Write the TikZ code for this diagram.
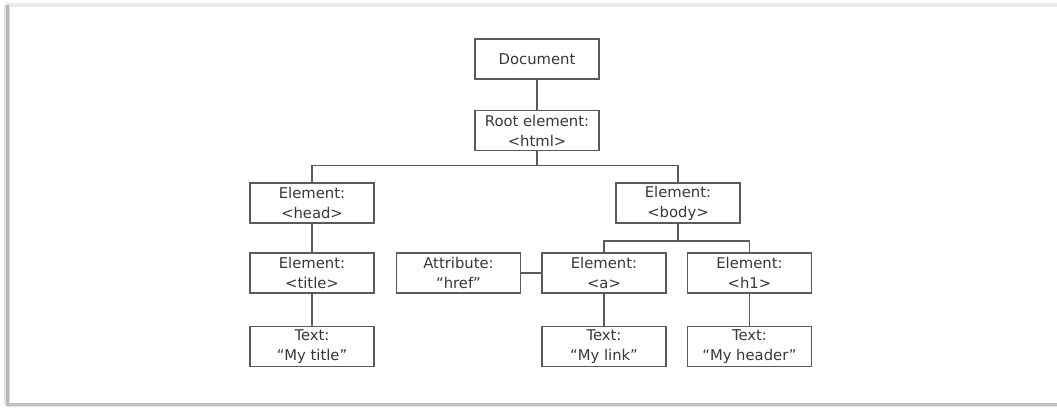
\documentclass[tikz,border=0pt]{standalone}
\usepackage{fontspec}
\setmainfont{DejaVu Sans}
\begin{document}
\begin{tikzpicture}[x=1pt,y=-1pt,
  treebox/.style={draw=boxline, line width=1.2pt, fill=white,
    minimum width=124pt, minimum height=40pt, inner sep=0pt,
    align=center, text=textgray, font=\fontsize{14.8}{20}\selectfont},
  link/.style={draw=boxline, line width=1.2pt}]
\definecolor{boxline}{HTML}{5A5A5A}
\definecolor{textgray}{HTML}{383838}
\useasboundingbox (0,0) rectangle (1057,407);
% page frame with its soft shadow
\fill[white] (0,0) rectangle (1057,407);
\fill[black!8] (6,3) rectangle (1057,6.5);
\fill[black!10] (4,5) rectangle (6,405);
\fill[black!28] (6,5) rectangle (9,405);
\fill[black!12] (9,5) rectangle (10,405);
\fill[black!25] (6,402.5) rectangle (1057,405.5);
\fill[black!10] (6,405.5) rectangle (1057,407);

% tree nodes
\node[treebox] (doc)      at (537,59)    {Document};
\node[treebox] (root)     at (537,130.5) {Root element:\\<html>};
\node[treebox] (head)     at (312,203)   {Element:\\<head>};
\node[treebox] (body)     at (678,203)   {Element:\\<body>};
\node[treebox] (title)    at (312,273)   {Element:\\<title>};
\node[treebox] (attr)     at (458.5,273) {Attribute:\\“href”};
\node[treebox] (anchor)   at (604,273)   {Element:\\<a>};
\node[treebox] (hone)     at (749.5,273) {Element:\\<h1>};
\node[treebox] (mytitle)  at (312,346.5) {Text:\\“My title”};
\node[treebox] (mylink)   at (604,346.5) {Text:\\“My link”};
\node[treebox] (myheader) at (749.5,346.5) {Text:\\“My header”};

% junction points of the branching connectors
\coordinate (rootjoin) at (537,165.5);
\coordinate (bodyjoin) at (678,241);

% connectors
\draw[link] (doc.south) -- (root.north);
\draw[link] (root.south) -- (rootjoin);
\draw[link] (head.north) |- (rootjoin) -| (body.north);
\draw[link] (head.south) -- (title.north);
\draw[link] (title.south) -- (mytitle.north);
\draw[link] (body.south) -- (bodyjoin);
\draw[link] (anchor.north) |- (bodyjoin) -| (hone.north);
\draw[link] (attr.east) -- (anchor.west);
\draw[link] (anchor.south) -- (mylink.north);
\draw[link] (hone.south) -- (myheader.north);
\end{tikzpicture}
\end{document}
